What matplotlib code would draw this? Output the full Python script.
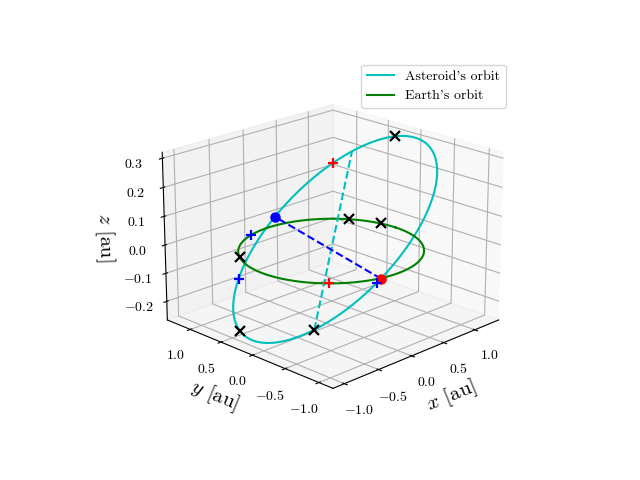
import numpy as np
import matplotlib
matplotlib.use("Agg")
import matplotlib.pyplot as plt

plt.rcParams["font.family"] = "serif"
plt.rcParams["font.serif"] = ["cmr10"]
plt.rcParams["mathtext.fontset"] = "cm"
plt.rcParams["axes.formatter.use_mathtext"] = True

# asteroid orbit elements (au, degrees)
a_ast = 1.14
e_ast = 0.14
inc = 14.4
node = 256.0   # longitude of ascending node
argp = 318.0   # argument of perihelion

# markers on the asteroid orbit, argument of latitude [deg]
ast_cross = [114, 255, 318]
ast_red = [147.5]
ast_blue = [214, 357.5]
# markers on Earth's orbit, longitude [deg]
earth_cross = [148, 34, 12]
earth_red = [-136]
earth_blue = [107]


def asteroid(u):
    """Position on the asteroid orbit for argument of latitude u (deg)."""
    u = np.radians(np.atleast_1d(u))
    p = a_ast * (1 - e_ast**2)
    r = p / (1 + e_ast * np.cos(u - np.radians(argp)))
    om, i = np.radians(node), np.radians(inc)
    x = r * (np.cos(om) * np.cos(u) - np.sin(om) * np.sin(u) * np.cos(i))
    y = r * (np.sin(om) * np.cos(u) + np.cos(om) * np.sin(u) * np.cos(i))
    z = r * np.sin(u) * np.sin(i)
    return x, y, z


def earth(lon):
    lon = np.radians(np.atleast_1d(lon))
    return np.cos(lon), np.sin(lon), np.zeros_like(lon)


fig = plt.figure(figsize=(6.4, 4.8))
ax = fig.add_subplot(projection="3d")

t = np.linspace(0, 360, 400)
ax.plot(*asteroid(t), "c", lw=1.5, label="Asteroid's orbit")
ax.plot(*earth(t), "g", lw=1.5, label="Earth's orbit")

# line of apsides and line of nodes
ax.plot(*asteroid([argp, argp + 180]), "c--", lw=1.5)
ax.plot(*asteroid([0, 180]), "b--", lw=1.5)

mk = dict(ms=7, mew=1.6, ls="none")
ax.plot(*asteroid([0]), "ro", ms=6.5, ls="none")
ax.plot(*asteroid([180]), "bo", ms=6.5, ls="none")
ax.plot(*asteroid(ast_cross), "kx", **mk)
ax.plot(*earth(earth_cross), "kx", **mk)
ax.plot(*asteroid(ast_red), "r+", **mk)
ax.plot(*earth(earth_red), "r+", **mk)
ax.plot(*asteroid(ast_blue), "b+", **mk)
ax.plot(*earth(earth_blue), "b+", **mk)

ax.set_xlabel(r"$x$ [au]", fontsize=15)
ax.set_ylabel(r"$y$ [au]", fontsize=15)
ax.set_zlabel(r"$z$ [au]", fontsize=15)
ax.view_init(elev=20, azim=-135)
ax.legend(loc="upper right")

fig.savefig("out.png", dpi=100)
